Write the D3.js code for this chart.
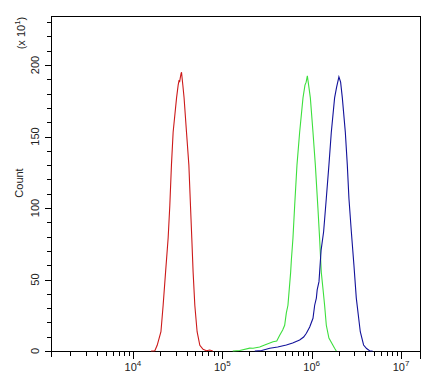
<!DOCTYPE html>
<html><head><meta charset="utf-8">
<script src="https://cdn.jsdelivr.net/npm/d3@7"></script>
<style>body{margin:0;background:#fff}svg{display:block}text{font-family:"Liberation Sans",Arial,sans-serif;fill:#222}</style>
</head><body>
<script>
// ---- data (intensity, count in units of 10^1) ----
const redSeries = [[16000,0],[17600,0.2],[18700,4],[20600,13.5],[21800,32],[23200,55],[24800,79],[25900,102],[27000,130],[28200,153],[30800,177],[32100,186],[32900,189.5],[33300,188],[33900,191],[34500,193.7],[35000,195],[36200,186],[37400,177],[39800,153],[42300,130],[44200,100],[45600,79],[47200,55],[49300,32],[52300,13.5],[56100,4],[61000,1.2],[66500,0.2],[72400,0.7],[78300,0]];
const greenSeries = [[131000,0],[157000,0.4],[203000,2],[221000,1.9],[262000,2.8],[298000,4.2],[370000,6.5],[407000,7],[439000,11],[474000,14.7],[499000,18],[521000,26.6],[543000,32],[582000,55],[593000,63.6],[618000,79],[646000,102],[685000,130],[734000,153],[800000,177],[842000,186],[868000,188],[895000,192.5],[925000,186],[967000,177],[1035000,153],[1100000,130],[1175000,100],[1227000,79],[1282000,55],[1343000,42.7],[1396000,32],[1459000,18],[1560000,9],[1806000,1.9],[1888000,0]];
const blueSeries = [[231000,0],[276000,0.3],[340000,1.9],[417000,2.8],[521000,4.2],[613000,5.6],[734000,7.7],[814000,9.8],[873000,12.4],[951000,16.8],[1035000,22.9],[1081000,32],[1129000,37],[1153000,42.7],[1208000,48.5],[1276000,70.6],[1361000,83.4],[1459000,106.8],[1560000,130],[1659000,153],[1806000,177],[1902000,184.6],[2018000,191.8],[2109000,188],[2204000,177],[2381000,153],[2506000,130],[2612000,106.8],[2780000,83.4],[2972000,60],[3159000,37],[3500000,13.5],[3811000,4.2],[4118000,1.7],[4448000,0.2],[4805000,0]];
const xTickExponents = [4,5,6,7];
const yTickLabels = [0,50,100,150,200];
const xDomain = [1213, 16300000];
const yDomain = [0, 234.3];
const seriesColors = ["#cc1a1a","#3ddf3d","#12129a"];

const W=440,H=380, L=51, R=420, T=16, B=351;
const svg=d3.select("body").append("svg").attr("width",W).attr("height",H);
const x=d3.scaleLog().domain(xDomain).range([L,R]);
const y=d3.scaleLinear().domain(yDomain).range([B,T]);

// frame
svg.append("rect").attr("x",L+0.5).attr("y",T+0.5).attr("width",R-L).attr("height",B-T)
  .attr("fill","none").attr("stroke","#000").attr("stroke-width",1);

// x axis ticks
const xt=[];
for(let e=3;e<=7;e++) for(let m=1;m<=9;m++){const v=m*Math.pow(10,e); if(v>=xDomain[0]&&v<=xDomain[1]) xt.push({v,major:m===1});}
svg.append("g").selectAll("line").data(xt).join("line")
  .attr("x1",d=>Math.round(x(d.v))+0.5).attr("x2",d=>Math.round(x(d.v))+0.5)
  .attr("y1",B).attr("y2",d=>B+(d.major?8:5)).attr("stroke","#000");
// end ticks
svg.append("line").attr("x1",L+0.5).attr("x2",L+0.5).attr("y1",B).attr("y2",B+6).attr("stroke","#000");
svg.append("line").attr("x1",R+0.5).attr("x2",R+0.5).attr("y1",B).attr("y2",B+8).attr("stroke","#000");

const xl=svg.append("g").selectAll("text").data(xTickExponents).join("text")
  .attr("x",d=>x(Math.pow(10,d))).attr("y",371).attr("text-anchor","middle").attr("font-size",11);
xl.append("tspan").text("10");
xl.append("tspan").text(d=>d).attr("font-size",8).attr("dy",-5);

// y axis ticks
const yt=d3.range(0,231,10);
svg.append("g").selectAll("line").data(yt).join("line")
  .attr("x1",d=>L-(d%50===0?6:4)).attr("x2",L)
  .attr("y1",d=>Math.round(y(d))+0.5).attr("y2",d=>Math.round(y(d))+0.5).attr("stroke","#000");
svg.append("g").selectAll("text").data(yTickLabels).join("text")
  .attr("transform",d=>`translate(39,${y(d)}) rotate(-90)`).attr("text-anchor","middle")
  .attr("font-size",11).text(d=>d);

svg.append("text").attr("transform","translate(23,183) rotate(-90)").attr("text-anchor","middle")
  .attr("font-size",11).text("Count");
const ux=svg.append("text").attr("transform","translate(25,33) rotate(-90)").attr("text-anchor","middle").attr("font-size",11);
ux.append("tspan").text("(x 10");
ux.append("tspan").text("1").attr("font-size",8).attr("dy",-5);
ux.append("tspan").text(")").attr("dy",5);

// curves
const line=d3.line().x(d=>x(d[0])).y(d=>y(d[1]));
[redSeries,greenSeries,blueSeries].forEach((s,i)=>{
  svg.append("path").datum(s).attr("d",line).attr("fill","none")
    .attr("stroke",seriesColors[i]).attr("stroke-width",1.1);
});
</script>
</body></html>
